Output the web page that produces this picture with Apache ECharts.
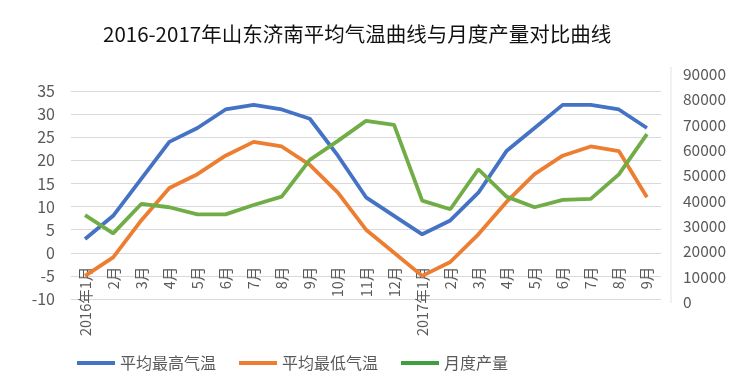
<!DOCTYPE html>
<html>
<head>
<meta charset="utf-8">
<script src="https://cdn.jsdelivr.net/npm/echarts@6/dist/echarts.min.js"></script>
<style>html,body{margin:0;padding:0;background:#fff;}#c{width:740px;height:385px;}</style>
</head>
<body>
<div id="c"></div>
<script>
const categories = ['2016年1月','2月','3月','4月','5月','6月','7月','8月','9月','10月','11月','12月',
  '2017年1月','2月','3月','4月','5月','6月','7月','8月','9月'];
const highTemp = [3, 8, 16, 24, 27, 31, 32, 31, 29, 21, 12, 8, 4, 7, 13, 22, 27, 32, 32, 31, 27];
const lowTemp = [-5, -1, 7, 14, 17, 21, 24, 23, 19, 13, 5, 0, -5, -2, 4, 11, 17, 21, 23, 22, 12];
const output = [34300, 27100, 38700, 37400, 34600, 34600, 38300, 41600, 56100, 63600, 71500, 69900,
  40000, 36600, 52400, 41600, 37400, 40300, 40700, 50400, 66300];
const seriesNames = ['平均最高气温', '平均最低气温', '月度产量'];
const colors = ['#4472C4', '#ED7D31', '#70AD47'];

const font = '"Noto Sans CJK SC", "Noto Sans", sans-serif';
const gridTop = 91, gridH = 208, yMin = -10, yMax = 35;
const zeroOffset = -gridH * (0 - yMin) / (yMax - yMin);

const chart = echarts.init(document.getElementById('c'), null, {renderer: 'canvas'});
chart.setOption({
  animation: false,
  backgroundColor: '#fff',
  color: colors,
  textStyle: {fontFamily: font},
  title: {
    text: '2016-2017年山东济南平均气温曲线与月度产量对比曲线',
    left: 98, top: 19,
    textStyle: {fontSize: 20.5, fontWeight: 'normal', color: '#111', fontFamily: font}
  },
  graphic: [{
    type: 'line', silent: true,
    shape: {x1: 671, y1: 67, x2: 671, y2: 303},
    style: {stroke: '#ececec', lineWidth: 1.5}
  }],
  legend: {
    left: 72, top: 350,
    itemWidth: 38, itemHeight: 4, itemGap: 23,
    icon: 'rect',
    textStyle: {fontSize: 16, color: '#595959', fontFamily: font},
    data: [seriesNames[0], seriesNames[1], seriesNames[2]]
  },
  grid: [
    {left: 71, right: 79, top: gridTop, height: gridH},
    {left: 71, right: 79, top: 74, height: 228}
  ],
  xAxis: [
    {
      type: 'category', gridIndex: 0, data: categories, boundaryGap: true,
      offset: zeroOffset,
      axisLine: {show: false, onZero: false},
      axisTick: {show: false},
      axisLabel: {rotate: 90, margin: 14, fontSize: 14.5, color: '#595959', fontFamily: font, interval: 0}
    },
    {
      type: 'category', gridIndex: 1, data: categories, boundaryGap: true, show: false
    }
  ],
  yAxis: [
    {
      type: 'value', gridIndex: 0, min: yMin, max: yMax, interval: 5,
      axisLine: {show: false}, axisTick: {show: false},
      axisLabel: {fontSize: 16, color: '#595959', margin: 16, fontFamily: font},
      splitLine: {lineStyle: {color: '#d9d9d9', width: 1}}
    },
    {
      type: 'value', gridIndex: 1, position: 'right', min: 0, max: 90000, interval: 10000,
      axisLine: {show: false}, axisTick: {show: false},
      axisLabel: {fontSize: 15.5, color: '#595959', margin: 22, fontFamily: font,
        formatter: function (v) { return String(v); }},
      splitLine: {show: false}
    }
  ],
  series: [
    {name: seriesNames[0], type: 'line', xAxisIndex: 0, yAxisIndex: 0, data: highTemp,
      symbol: 'none', lineStyle: {width: 3.8, color: colors[0]}, itemStyle: {color: colors[0]}},
    {name: seriesNames[1], type: 'line', xAxisIndex: 0, yAxisIndex: 0, data: lowTemp,
      symbol: 'none', lineStyle: {width: 3.8, color: colors[1]}, itemStyle: {color: colors[1]}},
    {name: seriesNames[2], type: 'line', xAxisIndex: 1, yAxisIndex: 1, data: output,
      symbol: 'none', lineStyle: {width: 3.8, color: colors[2]}, itemStyle: {color: '#3f9f3f'}}
  ]
});
</script>
</body>
</html>
